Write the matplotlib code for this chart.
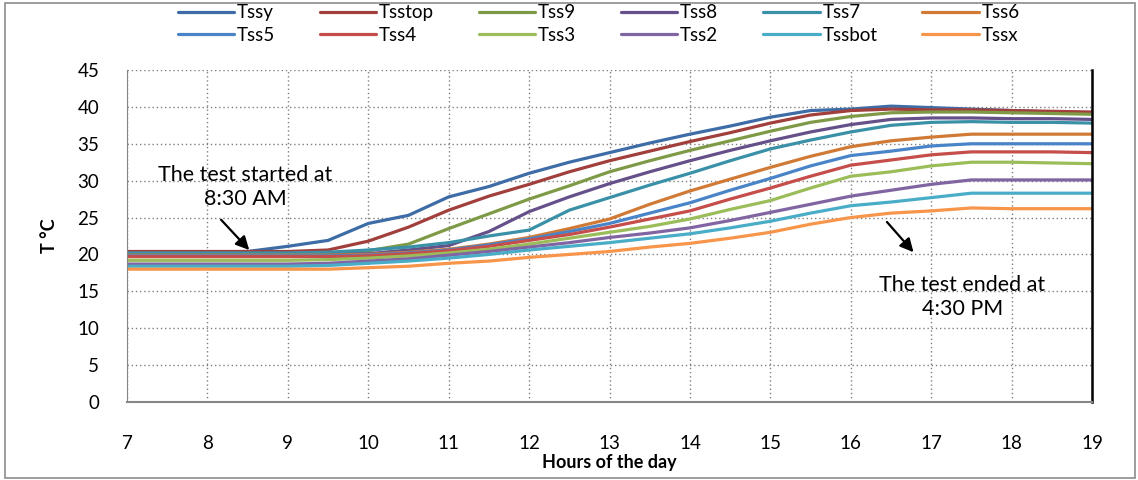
import matplotlib
matplotlib.use("Agg")
import matplotlib.pyplot as plt
from matplotlib.patches import Rectangle

plt.rcParams['font.family'] = ['Lato', 'DejaVu Sans']

# sampling times (hour of day)
hours = [7, 7.5, 8, 8.5, 9, 9.5, 10, 10.5, 11, 11.5, 12, 12.5, 13,
         13.5, 14, 14.5, 15, 15.5, 16, 16.5, 17, 17.5, 18, 18.5, 19]

# surface temperatures, deg C
tssy = [20.3, 20.3, 20.3, 20.4, 21.1, 21.9, 24.2, 25.3, 27.8, 29.2, 31.0, 32.5, 33.8,
        35.1, 36.3, 37.4, 38.6, 39.5, 39.7, 40.1, 39.9, 39.7, 39.5, 39.3, 39.2]
tsstop = [20.4, 20.4, 20.4, 20.4, 20.4, 20.6, 21.8, 23.7, 26.0, 27.9, 29.5, 31.2, 32.7,
          34.0, 35.3, 36.5, 37.8, 38.9, 39.5, 39.7, 39.6, 39.6, 39.5, 39.4, 39.3]
tss9 = [20.0, 20.0, 20.0, 20.0, 20.1, 20.2, 20.5, 21.4, 23.5, 25.5, 27.5, 29.3, 31.2,
        32.7, 34.1, 35.4, 36.7, 37.9, 38.7, 39.2, 39.3, 39.3, 39.2, 39.1, 39.0]
tss8 = [19.9, 19.9, 19.9, 19.9, 20.0, 20.0, 20.1, 20.6, 21.2, 23.1, 25.8, 27.8, 29.6,
        31.2, 32.7, 34.1, 35.4, 36.6, 37.6, 38.3, 38.5, 38.5, 38.4, 38.4, 38.3]
tss7 = [20.2, 20.2, 20.2, 20.2, 20.2, 20.3, 20.6, 21.0, 21.6, 22.5, 23.3, 26.0, 27.7,
        29.4, 31.0, 32.7, 34.3, 35.5, 36.6, 37.5, 37.9, 38.0, 37.9, 37.9, 37.8]
tss6 = [19.9, 19.9, 19.9, 19.9, 19.9, 19.9, 20.0, 20.3, 20.7, 21.4, 22.3, 23.5, 24.8,
        26.8, 28.6, 30.2, 31.8, 33.3, 34.6, 35.4, 35.9, 36.3, 36.3, 36.3, 36.3]
tss5 = [19.8, 19.8, 19.8, 19.8, 19.8, 19.8, 19.9, 20.2, 20.6, 21.3, 22.1, 23.1, 24.2,
        25.6, 27.0, 28.7, 30.3, 32.0, 33.4, 34.0, 34.7, 35.0, 35.0, 35.0, 35.0]
tss4 = [19.7, 19.7, 19.7, 19.7, 19.7, 19.7, 19.8, 20.1, 20.5, 21.1, 21.9, 22.7, 23.7,
        24.8, 25.9, 27.5, 29.0, 30.6, 32.1, 32.8, 33.5, 33.9, 33.9, 33.9, 33.8]
tss3 = [19.2, 19.2, 19.2, 19.2, 19.2, 19.3, 19.5, 19.8, 20.2, 20.7, 21.4, 22.2, 23.0,
        23.8, 24.8, 26.1, 27.3, 29.0, 30.6, 31.2, 32.0, 32.5, 32.5, 32.4, 32.3]
tss2 = [18.7, 18.7, 18.7, 18.7, 18.7, 18.8, 19.1, 19.4, 19.9, 20.4, 21.0, 21.6, 22.3,
        22.9, 23.6, 24.6, 25.7, 26.8, 27.9, 28.7, 29.5, 30.1, 30.1, 30.1, 30.1]
tssbot = [18.4, 18.4, 18.4, 18.4, 18.4, 18.5, 18.8, 19.1, 19.5, 20.0, 20.6, 21.1, 21.6,
          22.2, 22.8, 23.6, 24.5, 25.6, 26.6, 27.1, 27.7, 28.3, 28.3, 28.3, 28.3]
tssx = [18.0, 18.0, 18.0, 18.0, 18.0, 18.0, 18.2, 18.4, 18.8, 19.1, 19.6, 20.0, 20.4,
        21.0, 21.5, 22.2, 23.0, 24.1, 25.0, 25.6, 25.9, 26.3, 26.2, 26.2, 26.2]

names = ["Tssy", "Tsstop", "Tss9", "Tss8", "Tss7", "Tss6",
         "Tss5", "Tss4", "Tss3", "Tss2", "Tssbot", "Tssx"]
series = [tssy, tsstop, tss9, tss8, tss7, tss6, tss5, tss4, tss3, tss2, tssbot, tssx]
colors = ["#3d6ca6", "#a13f3c", "#7f9a46", "#65508a", "#3a91a7", "#d07a35",
          "#4a84c8", "#c54d4a", "#9bbd59", "#8165a3", "#4aadc7", "#f7964a"]

fig = plt.figure(figsize=(11.38, 4.8), dpi=100)
ax = fig.add_axes([0.1116, 0.1625, 0.848, 0.6917])

lines = []
for name, vals, col in zip(names, series, colors):
    ln, = ax.plot(hours, vals, color=col, lw=2.3, label=name, solid_capstyle='round')
    lines.append(ln)

ax.set_xlim(7, 19)
ax.set_ylim(0, 45)
ax.set_xticks(range(7, 20))
ax.set_yticks(range(0, 46, 5))
ax.grid(True, color='#7f7f7f', linestyle=(0, (1, 2)), linewidth=1.0)
ax.set_axisbelow(True)
ax.tick_params(axis='both', length=0, labelsize=13.5)
ax.tick_params(axis='x', pad=24)
ax.tick_params(axis='y', pad=20)

ax.spines['top'].set_visible(False)
ax.spines['left'].set_color('#868686')
ax.spines['bottom'].set_color('#868686')
ax.spines['bottom'].set_linewidth(1.5)
ax.spines['right'].set_color('black')
ax.spines['right'].set_linewidth(1.8)

ax.set_xlabel("Hours of the day", fontsize=13, fontweight='bold', labelpad=1)
ax.set_ylabel("T °C", fontsize=13, fontweight='bold', labelpad=14)

# legend filled row by row
order = [0, 6, 1, 7, 2, 8, 3, 9, 4, 10, 5, 11]
fig.legend([lines[i] for i in order], [names[i] for i in order], ncol=6,
           loc='center', bbox_to_anchor=(0.526, 0.95), frameon=False,
           fontsize=13.5, handlelength=3.0, handletextpad=0.15,
           columnspacing=2.4, labelspacing=0.3)

arrow = dict(arrowstyle='-|>', color='black', lw=1.6, mutation_scale=20,
             shrinkA=0, shrinkB=0)
ax.text(8.47, 29.1, "The test started at\n8:30 AM", ha='center', va='center',
        fontsize=15.5, linespacing=1.25)
ax.annotate("", xy=(8.52, 20.6), xytext=(8.17, 24.7), arrowprops=arrow)
ax.annotate("", xy=(16.78, 20.3), xytext=(16.45, 24.4), arrowprops=arrow)
ax.text(17.39, 14.2, "The test ended at\n4:30 PM", ha='center', va='center',
        fontsize=15.5, linespacing=1.25)

fig.patches.append(Rectangle((0.004, 0.004), 0.993, 0.99, transform=fig.transFigure,
                             fill=False, edgecolor='#8c8c8c', linewidth=1.2))

fig.savefig("out.png", dpi=100)
